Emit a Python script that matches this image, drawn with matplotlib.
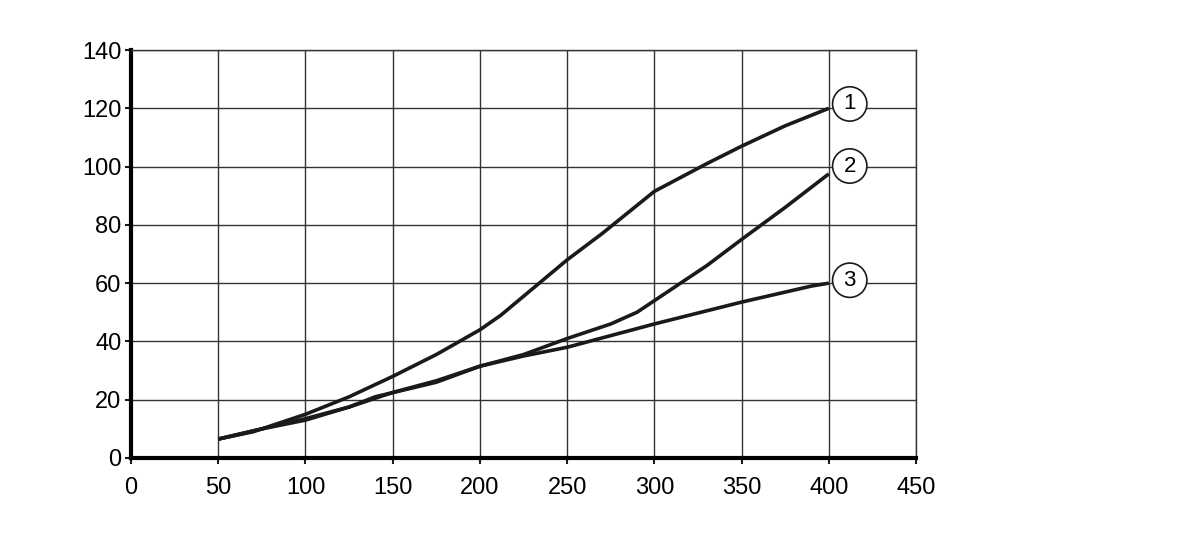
import numpy as np
import matplotlib
matplotlib.use('Agg')
import matplotlib.pyplot as plt

plt.rcParams['font.family'] = ['Liberation Sans', 'DejaVu Sans']

# curve 1
x1 = [50, 70, 100, 125, 150, 175, 200, 212, 230, 250, 270, 300, 330, 350, 375, 400]
y1 = [6.5, 9, 15, 21, 28, 35.5, 44, 49, 58, 68, 77, 91.5, 101, 107, 114, 120]
# curve 2
x2 = [50, 75, 100, 125, 150, 175, 200, 225, 250, 275, 290, 300, 330, 350, 375, 400]
y2 = [6.5, 10, 13, 17.5, 22.5, 26.5, 31.5, 35.5, 41, 46, 50, 54, 66, 75, 86, 97.5]
# curve 3
x3 = [50, 75, 100, 125, 140, 175, 200, 225, 250, 275, 300, 350, 390, 400]
y3 = [6.5, 10, 13.5, 17.5, 21, 26, 31.5, 35, 38, 42, 46, 53.5, 59, 60]

labels = ['1', '2', '3']
label_y = [121.5, 100.2, 61]

fig = plt.figure(figsize=(11.99, 5.38), dpi=100)
ax = fig.add_axes([0.1093, 0.1487, 0.6547, 0.7583])

for xs, ys in [(x1, y1), (x2, y2), (x3, y3)]:
    ax.plot(xs, ys, color='#1a1a1a', lw=2.6, solid_capstyle='butt', zorder=3)

for lab, ly in zip(labels, label_y):
    ax.text(412, ly, lab, ha='center', va='center', fontsize=16,
            bbox=dict(boxstyle='circle,pad=0.3', fc='white', ec='#1a1a1a', lw=1.2),
            zorder=4, clip_on=False)

ax.set_xlim(0, 450)
ax.set_ylim(0, 140)
ax.set_xticks(np.arange(0, 451, 50))
ax.set_yticks(np.arange(0, 141, 20))
ax.grid(True, color='#333333', lw=1.0)
ax.set_axisbelow(True)

for s in ['top', 'right']:
    ax.spines[s].set_color('#333333')
    ax.spines[s].set_linewidth(1.0)
ax.spines['left'].set_linewidth(3)
ax.spines['bottom'].set_linewidth(3)
ax.tick_params(axis='both', labelsize=17, length=4, width=1.5, color='#1a1a1a')
ax.tick_params(axis='x', pad=10)
ax.tick_params(axis='y', pad=3)

fig.savefig('out.png', dpi=100)
